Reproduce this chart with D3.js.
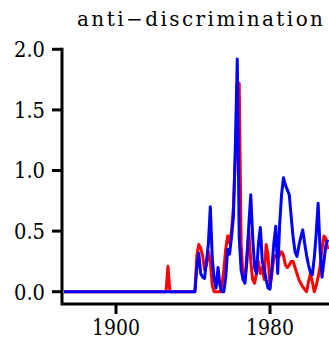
<!DOCTYPE html>
<html><head><meta charset="utf-8">
<script src="https://cdn.jsdelivr.net/npm/d3@7"></script>
<style>html,body{margin:0;padding:0;background:#fff;}svg{display:block;}</style>
</head><body>
<svg id="chart" width="329" height="343"></svg>
<script>
const title = "anti\u2212discrimination";
const xTicks = [1900, 1980];
const yTicks = [0, 0.5, 1.0, 1.5, 2.0];
const FONT = "'DejaVu Serif', serif";

const redYears = [1873,1926,1927,1928,1941,1942,1943,1944,1945,1946,1947,1948,1949,1950,1951,1952,1953,1954,1955,1956,1957,1958,1959,1960,1961,1962,1963,1964,1965,1966,1967,1968,1969,1970,1971,1972,1973,1974,1975,1976,1977,1978,1979,1980,1981,1982,1983,1984,1985,1986,1987,1988,1989,1990,1991,1992,1993,1994,1995,1996,1997,1998,1999,2000,2001,2002,2003,2004,2005,2006,2007,2008,2009,2010];
const redValues = [0,0,0.21,0,0,0.30,0.39,0.36,0.30,0.18,0.22,0.33,0.25,0.05,0,0,0,0,0.05,0.18,0.35,0.46,0.40,0.50,0.70,1.10,1.55,1.72,0.40,0.11,0.11,0.30,0.50,0.25,0.10,0.07,0.15,0.25,0.15,0.20,0.10,0.39,0.30,0.04,0.15,0.28,0.30,0.28,0.30,0.33,0.30,0.22,0.20,0.22,0.25,0.25,0.20,0.15,0.10,0.07,0.04,0.02,0,0.08,0.15,0.08,0,0.05,0.12,0.21,0.35,0.46,0.44,0.35];

const blueYears = [1873,1941,1942,1943,1944,1945,1946,1947,1948,1949,1950,1951,1952,1953,1954,1955,1956,1957,1958,1959,1960,1961,1962,1963,1964,1965,1966,1967,1968,1969,1970,1971,1972,1973,1974,1975,1976,1977,1978,1979,1980,1981,1982,1983,1984,1985,1986,1987,1988,1989,1990,1991,1992,1993,1994,1995,1996,1997,1998,1999,2000,2001,2002,2003,2004,2005,2006,2007,2008,2009,2010];
const blueValues = [0,0,0.20,0.32,0.15,0.12,0.11,0.25,0.40,0.70,0.28,0.10,0.03,0.20,0.05,0,0,0.12,0.35,0.31,0.45,0.62,1.20,1.92,0.45,0.18,0.10,0.07,0.25,0.55,0.80,0.45,0.20,0.15,0.40,0.53,0.25,0.18,0.10,0.03,0.02,0.20,0.40,0.54,0.15,0.55,0.80,0.94,0.88,0.84,0.80,0.62,0.45,0.33,0.29,0.38,0.45,0.51,0.40,0.30,0.22,0.16,0.14,0.28,0.48,0.73,0.35,0.12,0.25,0.38,0.43];

const svg = d3.select("#chart");
const x = d3.scaleLinear().domain([1900, 1980]).range([116, 270]);
const y = d3.scaleLinear().domain([0, 2]).range([291.7, 49.3]);
const axisX = 62, axisY = 304;

svg.append("text").attr("x", 77).attr("y", 26)
  .style("font-family", FONT).style("font-size", "20px")
  .attr("textLength", 246).attr("lengthAdjust", "spacing")
  .attr("fill", "#000").text(title);

const ax = svg.append("g").attr("stroke", "#000").attr("stroke-width", 3).attr("fill", "none");
ax.append("path").attr("d", `M${axisX},${y(2)}V${axisY}H329`).attr("stroke-linecap", "square");
yTicks.forEach(t => ax.append("line").attr("x1", axisX - 10).attr("x2", axisX).attr("y1", y(t)).attr("y2", y(t)));
xTicks.forEach(t => ax.append("line").attr("x1", x(t)).attr("x2", x(t)).attr("y1", axisY).attr("y2", axisY + 10));

svg.append("g").selectAll("text").data(yTicks).join("text")
  .attr("x", 45).attr("y", d => y(d)).attr("dy", "0.36em")
  .attr("text-anchor", "end").style("font-family", FONT).style("font-size", "22px")
  .attr("textLength", 31).attr("lengthAdjust", "spacingAndGlyphs")
  .attr("fill", "#000").text(d => d.toFixed(1));
svg.append("g").selectAll("text").data(xTicks).join("text")
  .attr("x", d => x(d)).attr("y", 335)
  .attr("text-anchor", "middle").style("font-family", FONT).style("font-size", "22px")
  .attr("textLength", 48).attr("lengthAdjust", "spacingAndGlyphs")
  .attr("fill", "#000").text(d => d);

const line = d3.line().x(d => x(d[0])).y(d => y(d[1]));
svg.append("path").datum(d3.zip(redYears, redValues)).attr("d", line)
  .attr("fill", "none").attr("stroke", "#ff0000").attr("stroke-width", 3).attr("stroke-linejoin", "round");
svg.append("path").datum(d3.zip(blueYears, blueValues)).attr("d", line)
  .attr("fill", "none").attr("stroke", "#0000ff").attr("stroke-width", 3).attr("stroke-linejoin", "round");
</script>
</body></html>
